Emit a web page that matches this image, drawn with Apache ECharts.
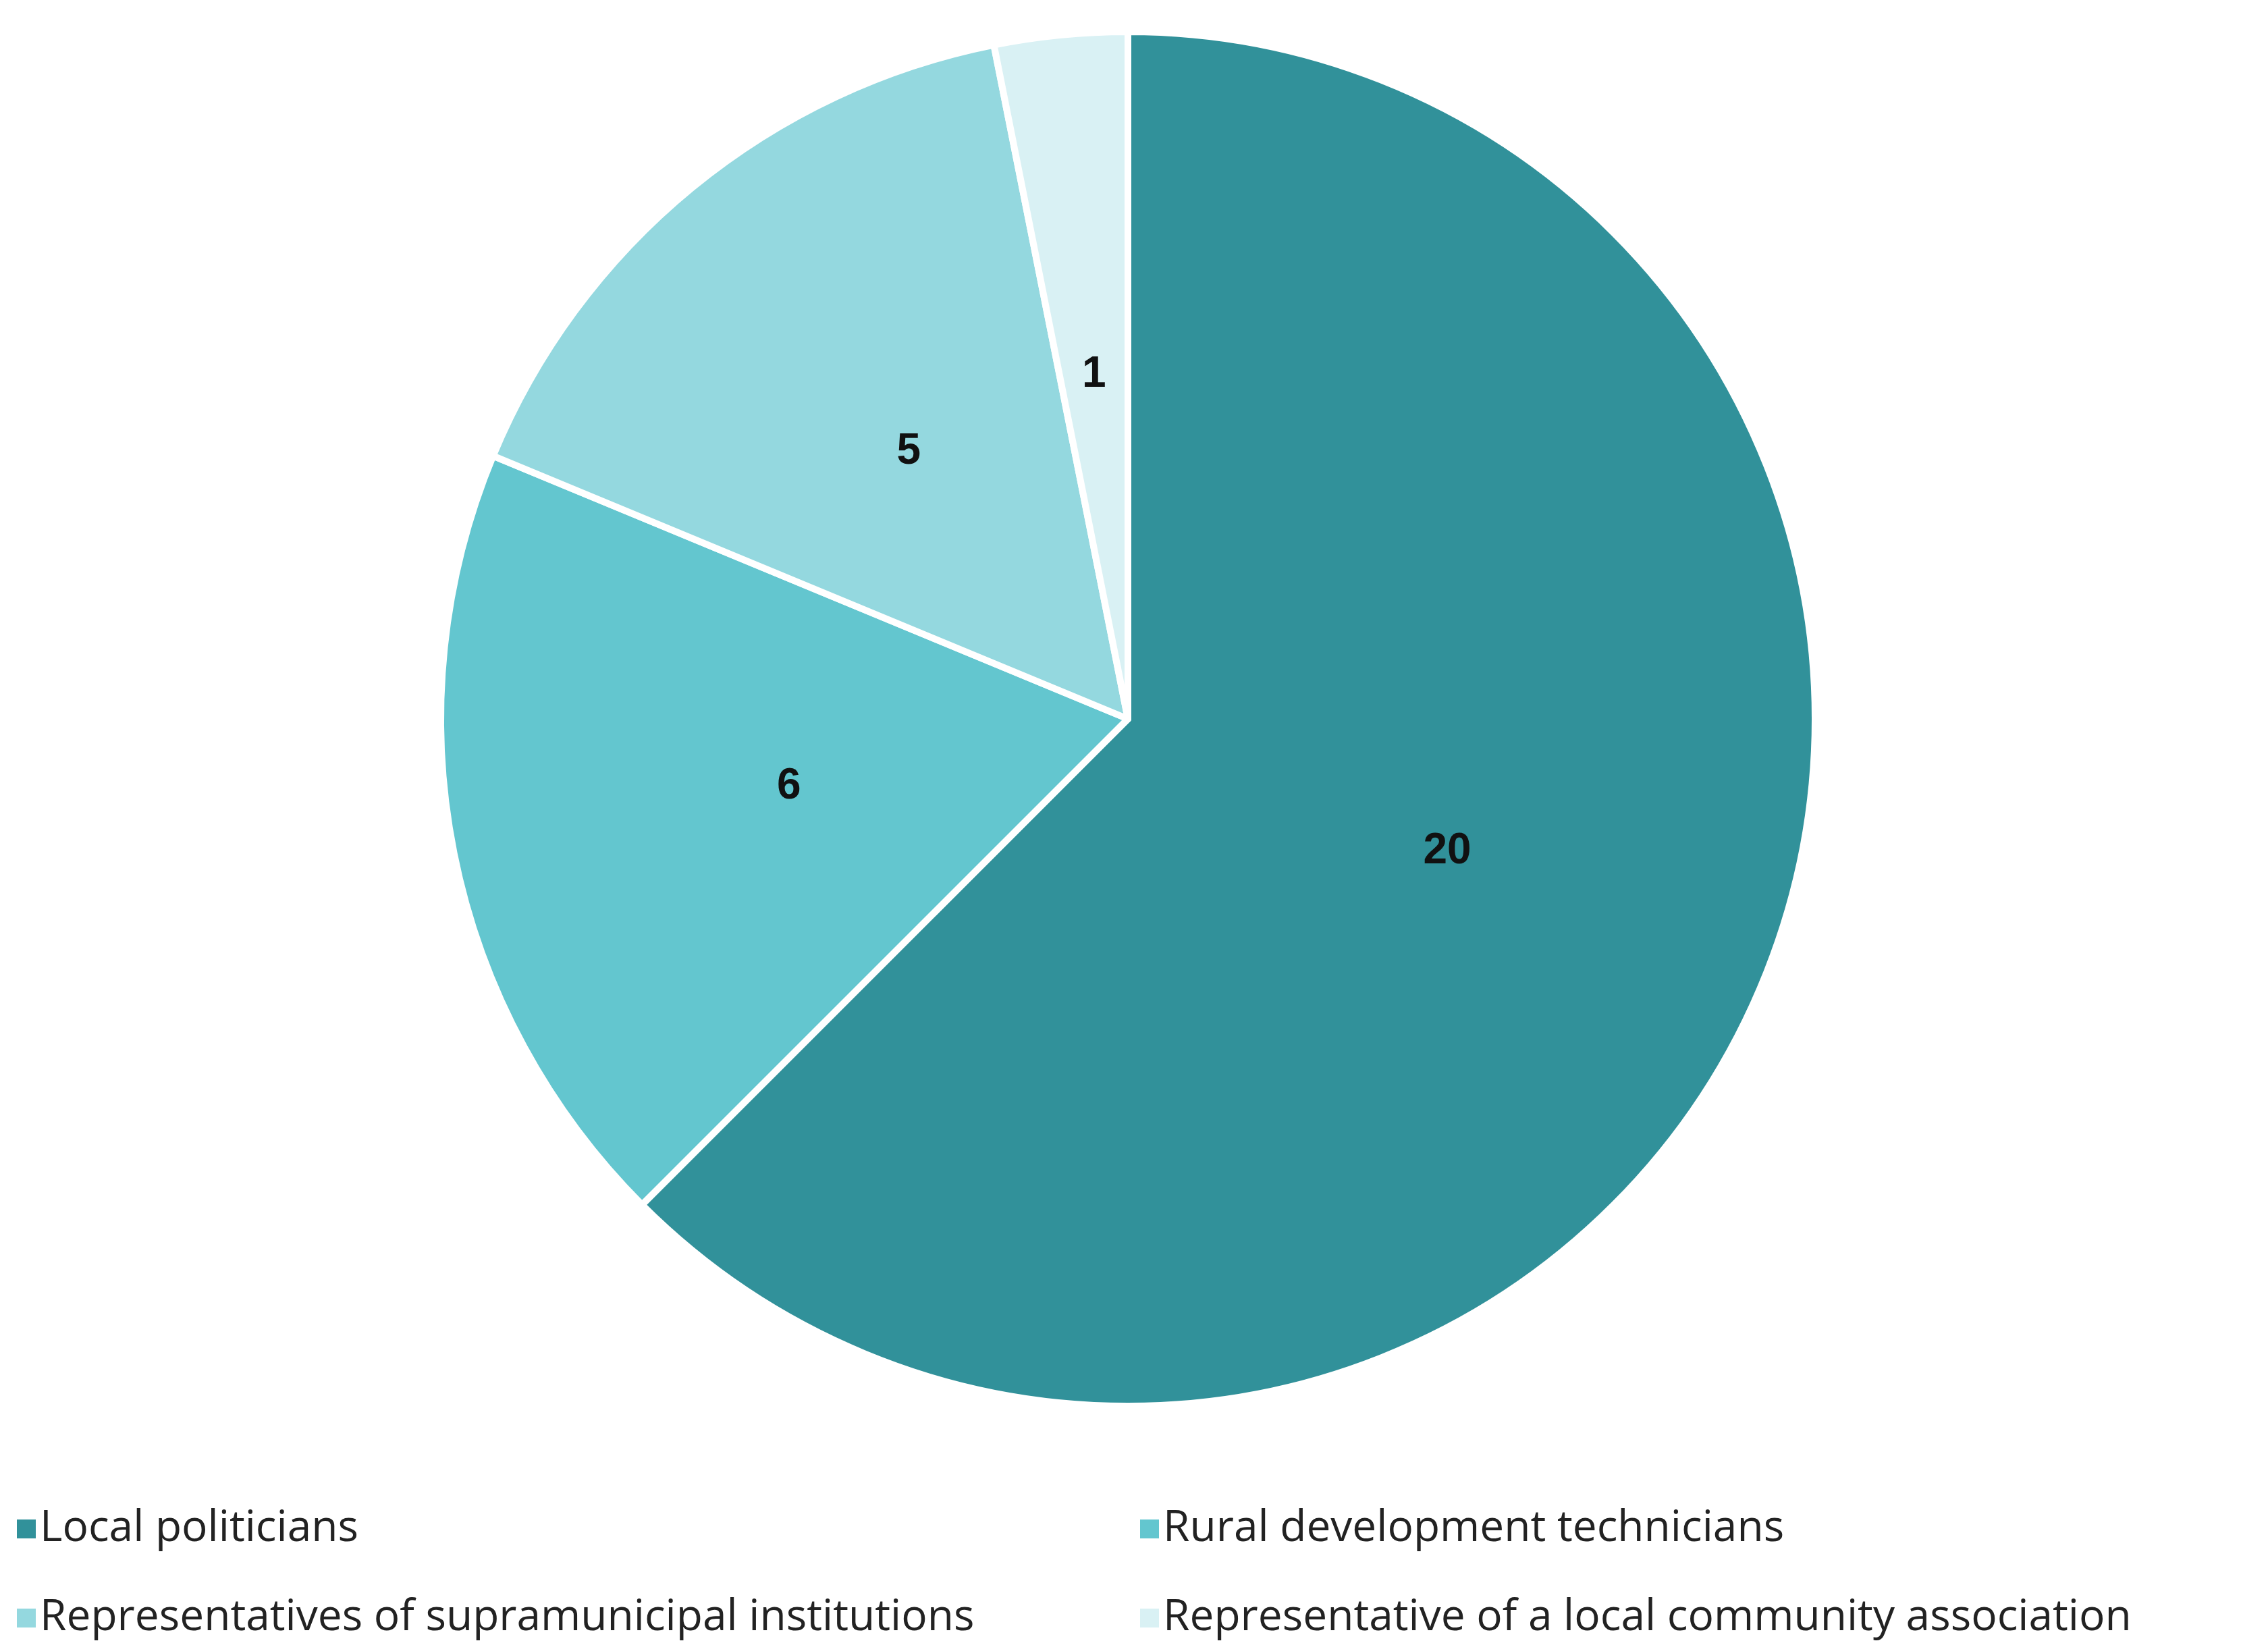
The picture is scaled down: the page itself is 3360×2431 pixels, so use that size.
<!DOCTYPE html>
<html>
<head>
<style>
  * { margin: 0; padding: 0; }
  #container { width: 3360px; height: 2431px; background: #fff; }
</style>
</head>
<body>
<div id="container"></div>
<script src="https://cdn.jsdelivr.net/npm/echarts@6/dist/echarts.min.js"></script>
<script>
var categories = ['Local politicians', 'Rural development technicians',
  'Representatives of supramunicipal institutions', 'Representative of a local community association'];
var values = [20, 6, 5, 1];
var colors = ['#31919A', '#63C6CF', '#94D8DF', '#D9F1F4'];

var chart = echarts.init(document.getElementById('container'));

var legendPos = [[18, 2208], [1682, 2208], [18, 2340], [1682, 2340]];
var legends = categories.map(function (c, i) {
  return {
    data: [c], left: legendPos[i][0], top: legendPos[i][1],
    icon: 'rect', itemWidth: 30, itemHeight: 30, itemGap: 20,
    textStyle: { fontSize: 64, color: '#222', fontFamily: 'Open Sans' }
  };
});

var option = {
  color: colors,
  legend: legends,
  series: [{
    type: 'pie',
    center: [1671, 1065],
    radius: [0, 1018],
    startAngle: 90,
    data: categories.map(function (c, i) { return { name: c, value: values[i] }; }),
    itemStyle: { borderColor: '#fff', borderWidth: 10 },
    label: {
      position: 'inside', formatter: '{c}',
      fontSize: 64, fontWeight: 'bold', color: '#111', fontFamily: 'Liberation Sans'
    },
    labelLine: { show: false },
    emphasis: { disabled: true }
  }]
};
chart.setOption(option);
</script>
</body>
</html>
